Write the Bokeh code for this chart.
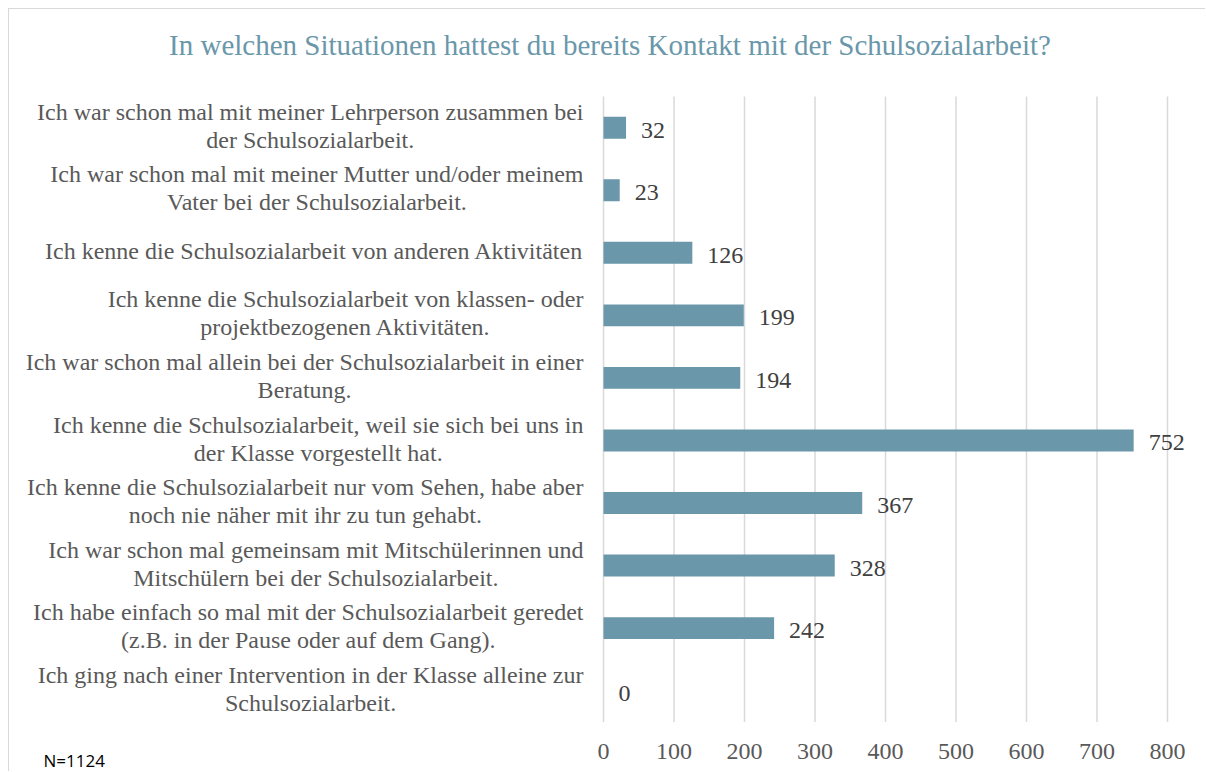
import glob
import struct
import subprocess

from bokeh.plotting import figure
from bokeh.models import ColumnDataSource, Range1d, LabelSet, Label
from bokeh.embed import file_html
from bokeh.resources import INLINE

title_text = "In welchen Situationen hattest du bereits Kontakt mit der Schulsozialarbeit?"
categories = [
    "Ich war schon mal mit meiner Lehrperson zusammen bei\nder Schulsozialarbeit.",
    "Ich war schon mal mit meiner Mutter und/oder meinem\nVater bei der Schulsozialarbeit.",
    "Ich kenne die Schulsozialarbeit von anderen Aktivitäten",
    "Ich kenne die Schulsozialarbeit von klassen- oder\nprojektbezogenen Aktivitäten.",
    "Ich war schon mal allein bei der Schulsozialarbeit in einer\nBeratung.",
    "Ich kenne die Schulsozialarbeit, weil sie sich bei uns in\nder Klasse vorgestellt hat.",
    "Ich kenne die Schulsozialarbeit nur vom Sehen, habe aber\nnoch nie näher mit ihr zu tun gehabt.",
    "Ich war schon mal gemeinsam mit Mitschülerinnen und\nMitschülern bei der Schulsozialarbeit.",
    "Ich habe einfach so mal mit der Schulsozialarbeit geredet\n(z.B. in der Pause oder auf dem Gang).",
    "Ich ging nach einer Intervention in der Klasse alleine zur\nSchulsozialarbeit.",
]
values = [32, 23, 126, 199, 194, 752, 367, 328, 242, 0]
x_ticks = [0, 100, 200, 300, 400, 500, 600, 700, 800]
note_text = "N=1124"

SERIF = "Liberation Serif"
LABEL_SIZE = 24
TITLE_SIZE = 29
NOTE_SIZE = 17
LABEL_SHIFT = 0.37   # single-Label baseline correction, in em (measured)


# ---- text width measurement (to centre the lines of each category label) ----
def _find_font():
    try:
        out = subprocess.run(["fc-match", "-f", "%{file}", SERIF], capture_output=True,
                             text=True, timeout=10).stdout.strip()
        if out.lower().endswith(".ttf"):
            return out
    except Exception:
        pass
    hits = glob.glob("/usr/share/fonts/**/LiberationSerif-Regular.ttf", recursive=True)
    return hits[0] if hits else None


def _make_measure():
    path = _find_font()
    data = open(path, "rb").read()
    num = struct.unpack(">H", data[4:6])[0]
    tables = {}
    for i in range(num):
        tag, _cs, off, _ln = struct.unpack(">4sIII", data[12 + 16 * i:28 + 16 * i])
        tables[tag.decode("latin1")] = off
    head = tables["head"]
    upem = struct.unpack(">H", data[head + 18:head + 20])[0]
    hhea = tables["hhea"]
    nhm = struct.unpack(">H", data[hhea + 34:hhea + 36])[0]
    hmtx = tables["hmtx"]
    adv = [struct.unpack(">H", data[hmtx + 4 * i:hmtx + 4 * i + 2])[0] for i in range(nhm)]
    cmap = tables["cmap"]
    n = struct.unpack(">H", data[cmap + 2:cmap + 4])[0]
    sub = None
    for i in range(n):
        pid, eid, off = struct.unpack(">HHI", data[cmap + 4 + 8 * i:cmap + 12 + 8 * i])
        fmt = struct.unpack(">H", data[cmap + off:cmap + off + 2])[0]
        if fmt == 4 and pid in (0, 3):
            sub = cmap + off
            break
    segx2 = struct.unpack(">H", data[sub + 6:sub + 8])[0]
    seg = segx2 // 2
    ends = struct.unpack(">%dH" % seg, data[sub + 14:sub + 14 + segx2])
    starts = struct.unpack(">%dH" % seg, data[sub + 16 + segx2:sub + 16 + 2 * segx2])
    deltas = struct.unpack(">%dh" % seg, data[sub + 16 + 2 * segx2:sub + 16 + 3 * segx2])
    rpos = sub + 16 + 3 * segx2
    roffs = struct.unpack(">%dH" % seg, data[rpos:rpos + segx2])

    def gid(c):
        for i in range(seg):
            if ends[i] >= c:
                if starts[i] > c:
                    return 0
                if roffs[i] == 0:
                    return (c + deltas[i]) & 0xFFFF
                addr = rpos + 2 * i + roffs[i] + 2 * (c - starts[i])
                g = struct.unpack(">H", data[addr:addr + 2])[0]
                return (g + deltas[i]) & 0xFFFF if g else 0
        return 0

    def measure(s, size):
        return sum(adv[min(gid(ord(ch)), nhm - 1)] for ch in s) * size / upem
    return measure


try:
    measure = _make_measure()
except Exception:
    def measure(s, size):
        return 0.42 * size * len(s)

# ---- layout (pixels) -------------------------------------------------------
W, H = 1197, 763
ORG = 9                    # page position of the canvas' top-left corner
PX0, PXS = 603.0, 0.705    # page x of value 0, pixels per unit
PY0, PYS = 127.2, 62.55    # page y of the first row, pixels per row

n_rows = len(categories)
positions = list(range(n_rows))   # 0 = top row

x_range = Range1d((ORG - PX0) / PXS, (ORG + W - PX0) / PXS)
y_range = Range1d((ORG + H - PY0) / PYS, (ORG - PY0) / PYS)   # reversed: row 0 on top

p = figure(width=W, height=H, output_backend="svg", toolbar_location=None,
           x_range=x_range, y_range=y_range,
           x_axis_location=None, y_axis_location=None,
           min_border_left=0, min_border_right=0, min_border_top=0, min_border_bottom=0)
p.grid.visible = False
p.outline_line_color = None
p.styles = {"border-left": "1px solid #d9d9d9", "border-top": "1px solid #d9d9d9",
            "margin-left": "8px", "margin-top": "8px"}

# vertical grid lines over the category band
p.segment(x0=x_ticks, x1=x_ticks, y0=[-0.5] * len(x_ticks), y1=[n_rows - 0.5] * len(x_ticks),
          line_color="#d9d9d9", line_width=1.5)

# bars
src = ColumnDataSource(dict(pos=positions, val=values, lab=[str(v) for v in values]))
p.hbar(y="pos", right="val", left=0, height=0.35, source=src,
       fill_color="#6A97AA", line_color=None)

# value labels
p.add_layout(LabelSet(x="val", y="pos", text="lab", source=src, x_offset=15, y_offset=-10,
                      text_baseline="alphabetic", text_align="left",
                      text_font=SERIF, text_font_size="24px", text_color="#404040"))

# x tick labels
tsrc = ColumnDataSource(dict(x=x_ticks, y=[n_rows - 0.5] * len(x_ticks),
                             t=[str(t) for t in x_ticks]))
p.add_layout(LabelSet(x="x", y="y", text="t", source=tsrc, y_offset=-37.5,
                      text_baseline="alphabetic", text_align="center",
                      text_font=SERIF, text_font_size="24px", text_color="#595959"))

# category labels: block right-aligned 20px left of value 0, lines centred
LINE_H = 28
for pos, cat in zip(positions, categories):
    lines = cat.split("\n")
    block_w = max(measure(t, LABEL_SIZE) for t in lines)
    n = len(lines)
    for j, t in enumerate(lines):
        p.add_layout(Label(x=0, y=pos, text=t, x_offset=-(20 + block_w / 2),
                           y_offset=-(7 + (j - (n - 1) / 2) * LINE_H) + LABEL_SHIFT * LABEL_SIZE,
                           text_align="center", text_baseline="alphabetic",
                           text_font=SERIF, text_font_size="%dpx" % LABEL_SIZE,
                           text_color="#595959"))

# title and note (screen units: from the canvas' bottom-left corner)
p.add_layout(Label(x=609.5 - ORG, y=(ORG + H) - 55 + LABEL_SHIFT * TITLE_SIZE,
                   x_units="screen", y_units="screen",
                   text=title_text, text_align="center", text_baseline="alphabetic",
                   text_font=SERIF, text_font_size="%dpx" % TITLE_SIZE, text_color="#6A97AA"))
p.add_layout(Label(x=43 - ORG, y=(ORG + H) - 766 + LABEL_SHIFT * NOTE_SIZE,
                   x_units="screen", y_units="screen",
                   text=note_text, text_baseline="alphabetic",
                   text_font="Open Sans", text_font_size="%dpx" % NOTE_SIZE,
                   text_color="#000000"))

open("out.html", "w").write(file_html(p, INLINE))
